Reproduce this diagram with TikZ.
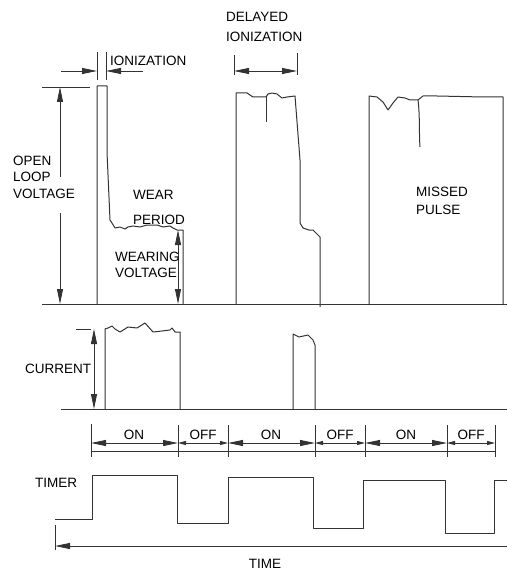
\documentclass[tikz,border=0pt]{standalone}
\usepackage{fontspec}
\setmainfont{Liberation Sans}
\usetikzlibrary{arrows.meta}

\begin{document}
\begin{tikzpicture}[x=1pt,y=-1pt]
	\tikzset{wave/.style={line width=1pt,black!80,line join=round},
		dim/.style={line width=0.9pt,black!80},
		txt/.style={inner sep=0pt,font=\fontsize{13.5}{16}\selectfont,align=left},
		big/.style={>={Triangle[length=15pt,width=6pt]}},
		small/.style={>={Triangle[length=8pt,width=4pt]}}}
	\useasboundingbox (0,0) rectangle (507,572);

	% voltage trace
	\coordinate (vb0) at (42,304);
	\coordinate (vb1) at (507,304);
	\draw[wave] (vb0) -- (vb1);
	\draw[wave] (97,304) -- (97,86) -- (107,86) -- (107,152) -- (110,220) -- (112,223) -- (115,228) -- (120,227) -- (125,229) -- (128,227) -- (133,226) -- (140,227) -- (147,225) -- (157,225) -- (163,227) -- (170,226) -- (173,228) -- (177,230) -- (183,230) -- (183,304);
	\draw[wave] (236,304) -- (236,93) -- (247,93) -- (253,97) -- (260,97) -- (266,97) -- (268,94) -- (272,93) -- (277,94) -- (282,98) -- (287,97) -- (295,96) -- (300,160) -- (300,223) -- (303,228) -- (309,230) -- (313,230) -- (320,237) -- (320,307);
	\draw[wave] (266,97) -- (266,122);
	\draw[wave] (369,305) -- (369,96) -- (377,97) -- (383,102) -- (388,110) -- (393,103) -- (398,97) -- (405,98) -- (410,100) -- (418,100) -- (423,96) -- (437,96) -- (483,97) -- (503,97) -- (503,305);
	\draw[wave] (418,100) .. controls (420,115) and (419,135) .. (420,147);

	% open loop voltage
	\coordinate (ol0) at (42,87);
	\coordinate (ol1) at (60,87);
	\coordinate (ol2) at (60,177);
	\coordinate (ol3) at (60,213);
	\coordinate (ol4) at (60,304);
	\coordinate (ol5) at (90,87);
	\draw[dim] (ol0) -- (ol5);
	\path
	(ol2) edge [dim, big, ->] (ol1)
	(ol3) edge [dim, big, ->] (ol4);
	\node (olv) at (13,177) [txt,anchor=west,font=\fontsize{13.5}{16.5}\selectfont] {OPEN\\LOOP\\VOLTAGE};

	% ionization
	\coordinate (io1) at (97,52);
	\coordinate (io2) at (97,80);
	\coordinate (io3) at (106,52);
	\coordinate (io4) at (106,80);
	\coordinate (ioa) at (61,71);
	\coordinate (iob) at (97,71);
	\coordinate (ioc) at (143,71);
	\coordinate (iod) at (106,71);
	\path
	(io1) edge [dim] (io2)
	(io3) edge [dim] (io4)
	(ioa) edge [dim, big, ->] (iob)
	(ioc) edge [dim, big, ->] (iod);
	\node (ion) at (110,61) [txt,anchor=west] {IONIZATION};

	% wear period
	\node (wp) at (133,207.5) [txt,anchor=west,font=\fontsize{13.5}{25}\selectfont] {WEAR\\PERIOD};
	\coordinate (wv1) at (178,230);
	\coordinate (wv2) at (178,304);
	\path (wv1) edge [dim, big, <->] (wv2);
	\node (wv) at (115,265) [txt,anchor=west] {WEARING\\VOLTAGE};

	% delayed ionization
	\coordinate (di1) at (234,55);
	\coordinate (di2) at (234,75);
	\coordinate (di3) at (297,53);
	\coordinate (di4) at (297,75);
	\coordinate (dia) at (234,71);
	\coordinate (dib) at (297,71);
	\path
	(di1) edge [dim] (di2)
	(di3) edge [dim] (di4)
	(dia) edge [dim, big, <->] (dib);
	\node (di) at (226,27) [txt,anchor=west,font=\fontsize{13.5}{20}\selectfont] {DELAYED\\IONIZATION};

	\node (mp) at (416,201) [txt,anchor=west,font=\fontsize{13.5}{18}\selectfont] {MISSED\\PULSE};

	% current trace
	\coordinate (cb0) at (61,409);
	\coordinate (cb1) at (507,409);
	\draw[wave] (cb0) -- (cb1);
	\draw[wave] (105,409) -- (105,329) -- (108,328) -- (112,326) -- (115,329) -- (120,332) -- (128,327) -- (137,328) -- (145,323) -- (153,332) -- (162,331) -- (170,330) -- (172,328) -- (175,332) -- (180,332) -- (180,409);
	\draw[wave] (293,409) -- (293,334) -- (299,337) -- (308,335) -- (313,340) -- (315,345) -- (315,409);
	\coordinate (cu0) at (76,329);
	\coordinate (cu1) at (94,329);
	\coordinate (cu2) at (94,409);
	\coordinate (cu3) at (91,329);
	\draw[dim] (cu0) -- (cu3);
	\path (cu1) edge [dim, big, <->] (cu2);
	\node (cur) at (25,369) [txt,anchor=west] {CURRENT};

	% on / off
	\coordinate (t0) at (91,424);
	\coordinate (t1) at (178,425);
	\coordinate (t2) at (228,425);
	\coordinate (t3) at (315,425);
	\coordinate (t4) at (365,425);
	\coordinate (t5) at (447,425);
	\coordinate (t6) at (495,425);
	\coordinate (b0) at (91,457);
	\coordinate (b1) at (178,457);
	\coordinate (b2) at (228,457);
	\coordinate (b3) at (315,457);
	\coordinate (b4) at (365,457);
	\coordinate (b5) at (447,457);
	\coordinate (b6) at (495,457);
	\path
	(t0) edge [dim] (b0)
	(t1) edge [dim] (b1)
	(t2) edge [dim] (b2)
	(t3) edge [dim] (b3)
	(t4) edge [dim] (b4)
	(t5) edge [dim] (b5)
	(t6) edge [dim] (b6);
	\coordinate (l0) at (91,451);
	\coordinate (l6) at (495,451);
	\draw[dim] (l0) -- (l6);
	\coordinate (a0) at (91,443);
	\coordinate (a1) at (178,443);
	\coordinate (a2) at (228,443);
	\coordinate (a3) at (315,443);
	\coordinate (a4) at (365,443);
	\coordinate (a5) at (447,443);
	\coordinate (a6) at (495,443);
	\path
	(a0) edge [dim, big, <->] (a1)
	(a1) edge [dim, small, <->] (a2)
	(a2) edge [dim, big, <->] (a3)
	(a3) edge [dim, small, <->] (a4)
	(a4) edge [dim, big, <->] (a5)
	(a5) edge [dim, small, <->] (a6);
	\node (on1) at (134,435) [txt] {ON};
	\node (off1) at (203,435) [txt] {OFF};
	\node (on2) at (271,435) [txt] {ON};
	\node (off2) at (340,435) [txt] {OFF};
	\node (on3) at (406,435) [txt] {ON};
	\node (off3) at (471,435) [txt] {OFF};

	% timer
	\draw[wave] (55,519) -- (92,519) -- (92,475) -- (177,475) -- (177,523) -- (228,523) -- (228,477) -- (313,477) -- (313,528) -- (363,528) -- (363,480) -- (445,480) -- (445,533) -- (494,533) -- (494,480) -- (507,480);
	\node (tim) at (35,483) [txt,anchor=west] {TIMER};

	% time
	\coordinate (tt0) at (55,525);
	\coordinate (tt1) at (55,550);
	\coordinate (tm0) at (55,546);
	\coordinate (tm1) at (507,546);
	\path
	(tt0) edge [dim] (tt1)
	(tm1) edge [dim, big, ->] (tm0);
	\node (time) at (265,564) [txt] {TIME};
\end{tikzpicture}
\end{document}
